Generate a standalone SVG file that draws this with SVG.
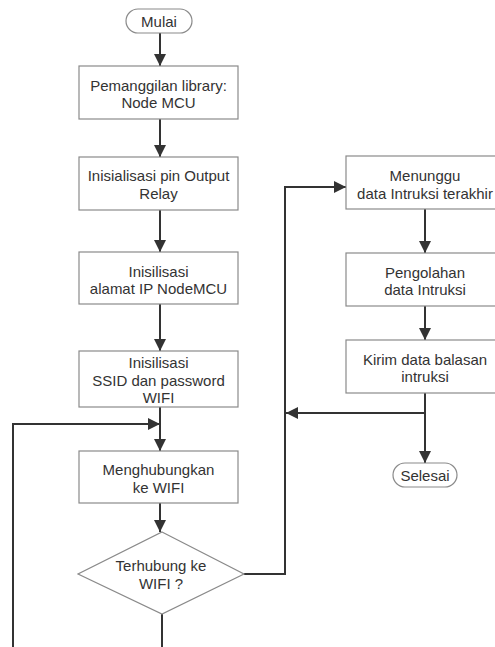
<svg xmlns="http://www.w3.org/2000/svg" width="495" height="647" viewBox="0 0 495 647">
<style>
.box{fill:#fff;stroke:#8a8a8a;stroke-width:1.2}
.t{font-family:"Liberation Sans",Arial,sans-serif;font-size:15px;fill:#333;text-anchor:middle}
.c{fill:none;stroke:#333;stroke-width:2}
</style>
<defs>
<marker id="ah" markerUnits="userSpaceOnUse" markerWidth="12" markerHeight="12" viewBox="0 0 12 12" refX="12" refY="6" orient="auto">
<path d="M0,0 L12,6 L0,12 Z" fill="#333"/>
</marker>
</defs>
<rect width="495" height="647" fill="#fff"/>
<g id="connectors">
<path class="c" d="M160,33 V66" marker-end="url(#ah)"/>
<path class="c" d="M160,119 V157" marker-end="url(#ah)"/>
<path class="c" d="M160,210 V252" marker-end="url(#ah)"/>
<path class="c" d="M160,304 V351" marker-end="url(#ah)"/>
<path class="c" d="M160,407 V451" marker-end="url(#ah)"/>
<path class="c" d="M13,647 V424 H160" marker-end="url(#ah)"/>
<path class="c" d="M160,503 V532" marker-end="url(#ah)"/>
<path class="c" d="M244,574 H285 V187 H346" marker-end="url(#ah)"/>
<path class="c" d="M162,614 V647"/>
<path class="c" d="M425,209 V253" marker-end="url(#ah)"/>
<path class="c" d="M425,306 V340" marker-end="url(#ah)"/>
<path class="c" d="M425,393 V463" marker-end="url(#ah)"/>
<path class="c" d="M425,413 H286" marker-end="url(#ah)"/>
</g>
<g id="mulai">
<rect class="box" x="126" y="9" width="66" height="24" rx="12"/>
<text class="t" x="159" y="26.5">Mulai</text>
</g>
<g id="library">
<rect class="box" x="79" y="66" width="159" height="53"/>
<text class="t" x="158.5" y="90.5">Pemanggilan library:</text>
<text class="t" x="158.5" y="107.5">Node MCU</text>
</g>
<g id="pin">
<rect class="box" x="79" y="157" width="159" height="53"/>
<text class="t" x="158.5" y="180.5">Inisialisasi pin Output</text>
<text class="t" x="158.5" y="198.5">Relay</text>
</g>
<g id="ip">
<rect class="box" x="79" y="252" width="159" height="52"/>
<text class="t" x="158.5" y="276.5">Inisilisasi</text>
<text class="t" x="158.5" y="293.5">alamat IP NodeMCU</text>
</g>
<g id="ssid">
<rect class="box" x="79" y="351" width="159" height="56"/>
<text class="t" x="158.5" y="367.5">Inisilisasi</text>
<text class="t" x="158.5" y="385.5">SSID dan password</text>
<text class="t" x="158.5" y="402.5">WIFI</text>
</g>
<g id="connect">
<rect class="box" x="79" y="451" width="159" height="52"/>
<text class="t" x="158.5" y="474.5">Menghubungkan</text>
<text class="t" x="158.5" y="492.5">ke WIFI</text>
</g>
<g id="decision">
<polygon class="box" points="162,532 244,574 162,614 78,574"/>
<text class="t" x="161" y="570.5">Terhubung ke</text>
<text class="t" x="161" y="588.5">WIFI ?</text>
</g>
<g id="wait">
<rect class="box" x="346" y="156" width="158" height="53"/>
<text class="t" x="425" y="180.5">Menunggu</text>
<text class="t" x="425" y="198.5">data Intruksi terakhir</text>
</g>
<g id="process">
<rect class="box" x="346" y="253" width="158" height="53"/>
<text class="t" x="425" y="277.5">Pengolahan</text>
<text class="t" x="425" y="294.5">data Intruksi</text>
</g>
<g id="send">
<rect class="box" x="346" y="340" width="158" height="53"/>
<text class="t" x="425" y="364.5">Kirim data balasan</text>
<text class="t" x="425" y="381.5">intruksi</text>
</g>
<g id="selesai">
<rect class="box" x="393" y="463" width="64" height="24" rx="12"/>
<text class="t" x="425" y="480.5">Selesai</text>
</g>
</svg>
